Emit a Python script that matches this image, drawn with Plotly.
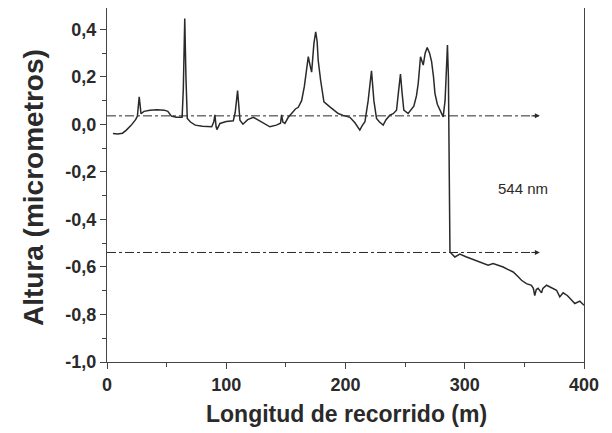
import plotly.graph_objects as go

# Profile trace (longitud de recorrido vs altura)
x_m = [5, 9, 13, 16, 20, 24, 25.5, 26.5, 27, 27.8, 28.5, 31, 36, 42, 48, 51, 54, 58, 63, 64, 65.2, 66.2, 67.3,
       70, 74, 80, 87.8, 89.5, 90.5, 91.5, 92.2, 94.7, 100, 105.9, 107.5, 109.5, 110.7, 111.5, 114, 118,
       122.7, 127, 131, 136.6, 142, 145.5, 146.4, 147.5, 149.2, 152, 154.8, 158, 160.4, 163.2, 165.5,
       167.5, 168.8, 170, 171.6, 173.5, 175, 176.2, 177.1, 179.1, 181.9, 186.9, 193.9, 198, 203.7, 207.9,
       210, 212, 214, 216.3, 219, 221.8, 223.8, 226, 228.5, 231.6, 234, 237.2, 240, 242.8, 244.5, 246.1,
       247.5, 248.9, 252.5, 255, 257.3, 259.5, 261, 262.9, 264, 265.2, 266.8, 268.5, 270.5, 272.2, 273.8,
       275, 277, 279.1, 281.9, 283.5, 284.7, 285.5, 286.3, 286.8, 287.2, 287.6, 291.7, 295.9, 301, 307,
       313, 319.6, 323.8, 332.2, 336, 340.6, 344, 347.6, 351.7, 355.9, 357.5, 358.7, 360, 361.5, 364.4,
       365.5, 368.6, 372, 377, 379.7, 382.5, 386, 389.5, 392.3, 396.5, 400]
altura_um = [-0.038, -0.04, -0.037, -0.025, -0.005, 0.02, 0.035, 0.08, 0.116, 0.08, 0.045, 0.055, 0.06, 0.062,
             0.06, 0.055, 0.035, 0.03, 0.03, 0.15, 0.446, 0.2, 0.025, 0.01, -0.003, -0.008, -0.01, 0.01, 0.04,
             -0.01, -0.022, 0.004, 0.012, 0.015, 0.05, 0.142, 0.07, 0.018, 0.001, 0.02, 0.03, 0.018, 0.004,
             -0.01, -0.003, 0.005, 0.04, 0.01, 0.004, 0.03, 0.046, 0.065, 0.072, 0.1, 0.16, 0.24, 0.285, 0.255,
             0.22, 0.34, 0.39, 0.35, 0.27, 0.187, 0.095, 0.074, 0.046, 0.038, 0.03, 0.007, -0.008, -0.024,
             -0.005, 0.011, 0.1, 0.226, 0.1, 0.025, 0.01, -0.003, 0.02, 0.039, 0.045, 0.06, 0.14, 0.212, 0.13,
             0.06, 0.046, 0.06, 0.077, 0.12, 0.173, 0.285, 0.27, 0.25, 0.3, 0.324, 0.3, 0.264, 0.2, 0.131,
             0.085, 0.06, 0.032, 0.1, 0.3, 0.334, 0.2, -0.2, -0.5, -0.537, -0.558, -0.546, -0.557, -0.569,
             -0.58, -0.593, -0.586, -0.6, -0.61, -0.621, -0.637, -0.656, -0.67, -0.677, -0.69, -0.72, -0.695,
             -0.69, -0.709, -0.69, -0.677, -0.685, -0.698, -0.726, -0.709, -0.72, -0.737, -0.754, -0.744,
             -0.761]

# Reference levels (dash-dot arrows) and step annotation
ref_levels = [0.036, -0.539]
ref_start = 0
ref_end = 363
step_label = "544 nm"
step_label_pos = [349, -0.271]

y_tick_values = [-1.0, -0.8, -0.6, -0.4, -0.2, 0.0, 0.2, 0.4]
y_tick_labels = ["-1,0", "-0,8", "-0,6", "-0,4", "-0,2", "0,0", "0,2", "0,4"]
x_tick_values = [0, 100, 200, 300, 400]
x_tick_labels = ["0", "100", "200", "300", "400"]

FONT = "Liberation Sans, Arial, sans-serif"
INK = "#2a2a2a"

fig = go.Figure()

for lvl in ref_levels:
    fig.add_trace(go.Scatter(x=[ref_start, ref_end - 4], y=[lvl, lvl], mode="lines",
                             line=dict(color=INK, width=1, dash="dashdot"),
                             showlegend=False, hoverinfo="skip"))
    fig.add_annotation(x=ref_end, y=lvl, ax=-10, ay=0, text="", showarrow=True,
                       arrowhead=2, arrowsize=1, arrowwidth=1, arrowcolor=INK)

fig.add_trace(go.Scatter(x=x_m, y=altura_um, mode="lines",
                         line=dict(color=INK, width=1.5), showlegend=False))

fig.add_annotation(x=step_label_pos[0], y=step_label_pos[1], text=step_label, showarrow=False,
                   font=dict(family=FONT, size=15, color=INK))

fig.add_annotation(xref="paper", yref="paper", x=-0.155, y=0.4915, xanchor="center", yanchor="middle",
                   text="<b>Altura (micrometros)</b>",
                   textangle=-90, showarrow=False, font=dict(family=FONT, size=28, color=INK))
fig.add_annotation(xref="paper", yref="paper", x=0.503, y=-0.147, xanchor="center", yanchor="middle",
                   text="<b>Longitud de recorrido (m)</b>",
                   showarrow=False, font=dict(family=FONT, size=23, color=INK))

axis_common = dict(showline=True, linecolor="#444", linewidth=1.2, mirror=True, showgrid=False,
                   zeroline=False, ticks="outside", ticklen=6, tickwidth=1, tickcolor="#444",
                   tickfont=dict(family=FONT, size=18, color=INK, weight="bold"))

fig.update_xaxes(range=[0, 400], tickmode="array", tickvals=x_tick_values, ticktext=x_tick_labels,
                 minor=dict(dtick=50, tick0=0, ticks="outside", ticklen=4, tickcolor="#444"),
                 **axis_common)
fig.update_yaxes(range=[-1.0, 0.49], tickmode="array", tickvals=y_tick_values, ticktext=y_tick_labels,
                 minor=dict(dtick=0.1, tick0=0, ticks="outside", ticklen=4, tickcolor="#444"),
                 **axis_common)

# page body adds an 8px offset; margins compensate so the plot area lands where the reference has it
fig.update_layout(width=612, height=433, margin=dict(l=99, r=36, t=0, b=79, autoexpand=False),
                  paper_bgcolor="white", plot_bgcolor="white",
                  font=dict(family=FONT, color=INK))

fig.write_html("out.html")
